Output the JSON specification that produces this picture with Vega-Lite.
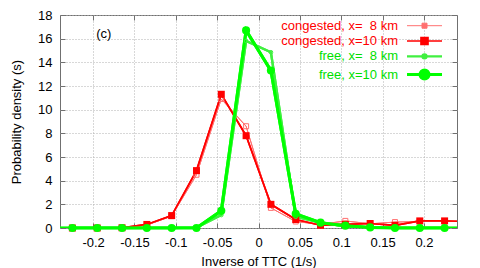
{
  "$schema": "https://vega.github.io/schema/vega-lite/v6.json",
  "width": 397,
  "height": 213,
  "autosize": {"type": "none"},
  "padding": {"left": 60, "top": 15, "right": 23, "bottom": 40},
  "config": {
    "font": "Liberation Sans",
    "view": {"stroke": "#707070", "strokeWidth": 1},
    "axis": {
      "labelFont": "Liberation Sans",
      "labelFontSize": 13,
      "labelColor": "#000000",
      "titleFont": "Liberation Sans",
      "titleFontSize": 13,
      "titleFontWeight": "normal",
      "titleColor": "#000000",
      "domain": false,
      "tickColor": "#707070",
      "gridColor": "#b0b0b0",
      "gridDash": [1, 2],
      "gridWidth": 1
    }
  },
  "datasets": {
    "curves": [
      {"series": "congested, x=\u00a0\u00a08 km", "x": -0.255, "y": 0},
      {"series": "congested, x=\u00a0\u00a08 km", "x": -0.225, "y": 0},
      {"series": "congested, x=\u00a0\u00a08 km", "x": -0.195, "y": 0},
      {"series": "congested, x=\u00a0\u00a08 km", "x": -0.165, "y": 0},
      {"series": "congested, x=\u00a0\u00a08 km", "x": -0.135, "y": 0.25},
      {"series": "congested, x=\u00a0\u00a08 km", "x": -0.105, "y": 1.0},
      {"series": "congested, x=\u00a0\u00a08 km", "x": -0.075, "y": 4.5},
      {"series": "congested, x=\u00a0\u00a08 km", "x": -0.045, "y": 10.9},
      {"series": "congested, x=\u00a0\u00a08 km", "x": -0.015, "y": 8.6},
      {"series": "congested, x=\u00a0\u00a08 km", "x": 0.015, "y": 1.7},
      {"series": "congested, x=\u00a0\u00a08 km", "x": 0.045, "y": 0.55},
      {"series": "congested, x=\u00a0\u00a08 km", "x": 0.075, "y": 0.3},
      {"series": "congested, x=\u00a0\u00a08 km", "x": 0.105, "y": 0.6},
      {"series": "congested, x=\u00a0\u00a08 km", "x": 0.135, "y": 0.35},
      {"series": "congested, x=\u00a0\u00a08 km", "x": 0.165, "y": 0.5},
      {"series": "congested, x=\u00a0\u00a08 km", "x": 0.195, "y": 0.55},
      {"series": "congested, x=\u00a0\u00a08 km", "x": 0.225, "y": 0.55},
      {"series": "congested, x=\u00a0\u00a08 km", "x": 0.255, "y": 0.55},
      {"series": "congested, x=10 km", "x": -0.255, "y": 0},
      {"series": "congested, x=10 km", "x": -0.225, "y": 0},
      {"series": "congested, x=10 km", "x": -0.195, "y": 0},
      {"series": "congested, x=10 km", "x": -0.165, "y": 0.02},
      {"series": "congested, x=10 km", "x": -0.135, "y": 0.3},
      {"series": "congested, x=10 km", "x": -0.105, "y": 1.05},
      {"series": "congested, x=10 km", "x": -0.075, "y": 4.85},
      {"series": "congested, x=10 km", "x": -0.045, "y": 11.3},
      {"series": "congested, x=10 km", "x": -0.015, "y": 7.8},
      {"series": "congested, x=10 km", "x": 0.015, "y": 2.0},
      {"series": "congested, x=10 km", "x": 0.045, "y": 0.72},
      {"series": "congested, x=10 km", "x": 0.075, "y": 0.23},
      {"series": "congested, x=10 km", "x": 0.105, "y": 0.3},
      {"series": "congested, x=10 km", "x": 0.135, "y": 0.38},
      {"series": "congested, x=10 km", "x": 0.165, "y": 0.22},
      {"series": "congested, x=10 km", "x": 0.195, "y": 0.6},
      {"series": "congested, x=10 km", "x": 0.225, "y": 0.6},
      {"series": "congested, x=10 km", "x": 0.255, "y": 0.57},
      {"series": "free, x=\u00a0\u00a08 km", "x": -0.255, "y": 0},
      {"series": "free, x=\u00a0\u00a08 km", "x": -0.225, "y": 0},
      {"series": "free, x=\u00a0\u00a08 km", "x": -0.195, "y": 0},
      {"series": "free, x=\u00a0\u00a08 km", "x": -0.165, "y": 0},
      {"series": "free, x=\u00a0\u00a08 km", "x": -0.135, "y": 0},
      {"series": "free, x=\u00a0\u00a08 km", "x": -0.105, "y": 0},
      {"series": "free, x=\u00a0\u00a08 km", "x": -0.075, "y": 0.03},
      {"series": "free, x=\u00a0\u00a08 km", "x": -0.045, "y": 1.1},
      {"series": "free, x=\u00a0\u00a08 km", "x": -0.015, "y": 15.8},
      {"series": "free, x=\u00a0\u00a08 km", "x": 0.015, "y": 14.85},
      {"series": "free, x=\u00a0\u00a08 km", "x": 0.045, "y": 0.95},
      {"series": "free, x=\u00a0\u00a08 km", "x": 0.075, "y": 0.45},
      {"series": "free, x=\u00a0\u00a08 km", "x": 0.105, "y": 0.15},
      {"series": "free, x=\u00a0\u00a08 km", "x": 0.135, "y": 0.05},
      {"series": "free, x=\u00a0\u00a08 km", "x": 0.165, "y": 0},
      {"series": "free, x=\u00a0\u00a08 km", "x": 0.195, "y": 0},
      {"series": "free, x=\u00a0\u00a08 km", "x": 0.225, "y": 0},
      {"series": "free, x=\u00a0\u00a08 km", "x": 0.255, "y": 0},
      {"series": "free, x=10 km", "x": -0.255, "y": 0},
      {"series": "free, x=10 km", "x": -0.225, "y": 0},
      {"series": "free, x=10 km", "x": -0.195, "y": 0},
      {"series": "free, x=10 km", "x": -0.165, "y": 0},
      {"series": "free, x=10 km", "x": -0.135, "y": 0},
      {"series": "free, x=10 km", "x": -0.105, "y": 0},
      {"series": "free, x=10 km", "x": -0.075, "y": 0},
      {"series": "free, x=10 km", "x": -0.045, "y": 1.45},
      {"series": "free, x=10 km", "x": -0.015, "y": 16.7},
      {"series": "free, x=10 km", "x": 0.015, "y": 13.3},
      {"series": "free, x=10 km", "x": 0.045, "y": 1.2},
      {"series": "free, x=10 km", "x": 0.075, "y": 0.45},
      {"series": "free, x=10 km", "x": 0.105, "y": 0.2},
      {"series": "free, x=10 km", "x": 0.135, "y": 0.05},
      {"series": "free, x=10 km", "x": 0.165, "y": 0},
      {"series": "free, x=10 km", "x": 0.195, "y": 0},
      {"series": "free, x=10 km", "x": 0.225, "y": 0},
      {"series": "free, x=10 km", "x": 0.255, "y": 0}
    ],
    "notes": [{"label": "(c)", "x": -0.187, "y": 16.4}]
  },
  "resolve": {"axis": {"x": "independent", "y": "independent"}},
  "layer": [
    {
      "data": {"name": "curves"},
      "encoding": {
        "x": {
          "field": "x", "type": "quantitative",
          "scale": {"domain": [-0.24, 0.24], "nice": false, "zero": false},
          "axis": {
            "title": "Inverse of TTC (1/s)",
            "values": [-0.2, -0.15, -0.1, -0.05, 0, 0.05, 0.1, 0.15, 0.2],
            "labelExpr": "'' + datum.value",
            "grid": true,
            "tickSize": -5,
            "labelPadding": 13,
            "titlePadding": 6
          }
        },
        "y": {
          "field": "y", "type": "quantitative",
          "scale": {"domain": [0, 18], "nice": false},
          "axis": {
            "title": "Probability density (s)",
            "values": [0, 2, 4, 6, 8, 10, 12, 14, 16, 18],
            "grid": true,
            "tickSize": -5,
            "labelPadding": 13,
            "titlePadding": 14
          }
        },
        "color": {
          "field": "series", "type": "nominal",
          "scale": {
            "domain": ["congested, x=\u00a0\u00a08 km", "congested, x=10 km", "free, x=\u00a0\u00a08 km", "free, x=10 km"],
            "range": ["#ff7070", "#ff0000", "#40f040", "#00ff00"]
          },
          "legend": {
            "orient": "none",
            "legendX": 200,
            "legendY": 4.2,
            "title": null,
            "labelFont": "Liberation Sans",
            "labelFontSize": 13,
            "labelAlign": "right",
            "symbolSize": 100,
            "rowPadding": 0.3,
            "padding": 0,
            "labelLimit": 300,
            "encode": {
              "symbols": {
                "update": {
                  "x": {"value": 164.5},
                  "shape": {"signal": "test(/congested/, datum.value) ? (test(/10/, datum.value) ? 'M-3.5,0H3.5M-0.7,-0.7H0.7V0.7H-0.7Z' : 'M-3.5,0H3.5M-0.5,-0.5H0.5V0.5H-0.5Z') : (test(/10/, datum.value) ? 'M-3.5,0H3.5M0.9,0A0.9,0.9,0,1,1,-0.9,0A0.9,0.9,0,1,1,0.9,0Z' : 'M-3.5,0H3.5M0.4,0A0.4,0.4,0,1,1,-0.4,0A0.4,0.4,0,1,1,0.4,0Z')"},
                  "fill": {"signal": "test(/10/, datum.value) ? (test(/congested/, datum.value) ? '#ff0000' : '#00ff00') : 'transparent'"},
                  "stroke": {"signal": "test(/congested/, datum.value) ? (test(/10/, datum.value) ? '#ff0000' : '#ff7070') : (test(/10/, datum.value) ? '#00ff00' : '#40f040')"},
                  "strokeWidth": {"signal": "test(/10/, datum.value) ? 3 : 1"},
                  "opacity": {"value": 1}
                }
              },
              "labels": {
                "update": {
                  "x": {"value": 138},
                  "align": {"value": "right"},
                  "fill": {"signal": "test(/congested/, datum.value) ? '#ff0000' : '#00e000'"}
                }
              }
            }
          }
        }
      },
      "layer": [
        {
          "mark": {"type": "line", "clip": true},
          "encoding": {
            "strokeWidth": {
              "field": "series", "type": "nominal",
              "scale": {
                "domain": ["congested, x=\u00a0\u00a08 km", "congested, x=10 km", "free, x=\u00a0\u00a08 km", "free, x=10 km"],
                "range": [1, 3, 1, 3]
              },
              "legend": null
            }
          }
        },
        {
          "transform": [{"filter": "abs(datum.x) < 0.24"}],
          "mark": {"type": "line", "clip": false},
          "encoding": {
            "strokeWidth": {"field": "series", "type": "nominal", "legend": null}
          }
        },
        {
          "transform": [{"filter": "abs(datum.x) < 0.24 && test(/congested/, datum.series) && !test(/10/, datum.series)"}],
          "mark": {"type": "point", "shape": "square", "filled": false, "size": 25, "strokeWidth": 1, "opacity": 1}
        },
        {
          "transform": [{"filter": "abs(datum.x) < 0.24 && datum.series == 'congested, x=10 km'"}],
          "mark": {"type": "point", "shape": "square", "filled": true, "size": 49, "opacity": 1}
        },
        {
          "transform": [{"filter": "abs(datum.x) < 0.24 && test(/free/, datum.series) && !test(/10/, datum.series)"}],
          "mark": {"type": "point", "shape": "circle", "filled": false, "size": 14, "strokeWidth": 1, "opacity": 1}
        },
        {
          "transform": [{"filter": "abs(datum.x) < 0.24 && datum.series == 'free, x=10 km'"}],
          "mark": {"type": "point", "shape": "circle", "filled": true, "size": 66, "opacity": 1}
        }
      ]
    },
    {
      "data": {"name": "notes"},
      "mark": {"type": "text", "font": "Liberation Sans", "fontSize": 13, "color": "#000000"},
      "encoding": {
        "x": {
          "field": "x", "type": "quantitative",
          "axis": {"orient": "top", "title": null, "labels": false, "grid": false, "tickSize": -5,
                   "values": [-0.2, -0.15, -0.1, -0.05, 0, 0.05, 0.1, 0.15, 0.2]}
        },
        "y": {
          "field": "y", "type": "quantitative",
          "axis": {"orient": "right", "title": null, "labels": false, "grid": false, "tickSize": -5,
                   "values": [0, 2, 4, 6, 8, 10, 12, 14, 16, 18]}
        },
        "text": {"field": "label"}
      }
    }
  ]
}
